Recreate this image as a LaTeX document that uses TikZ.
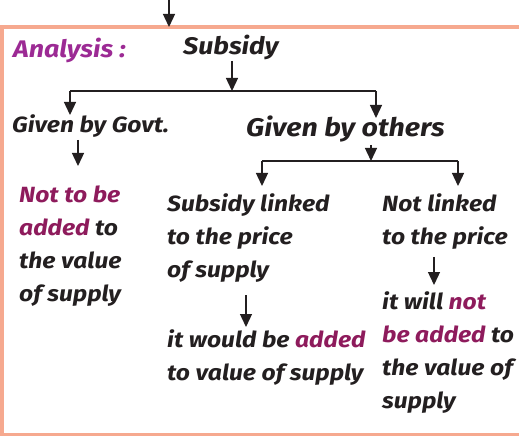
\documentclass[tikz,border=0pt]{standalone}
\usepackage{fontspec}
\setmainfont{Fira Sans}[FakeStretch=1.12]
\usetikzlibrary{arrows.meta}
\definecolor{boxc}{HTML}{F6A98F}
\definecolor{ana}{HTML}{9C2A94}
\definecolor{mag}{HTML}{8E1B5C}
\definecolor{ink}{HTML}{231F20}
\begin{document}
\begin{tikzpicture}[x=1pt,y=-1pt,
  arr/.style={draw=ink,line width=1.3pt,-{Triangle[length=13pt,width=12pt]}},
  lin/.style={draw=ink,line width=1.1pt},
  txt/.style={inner sep=0pt,text=ink,font=\bfseries\itshape\fontsize{22}{33}\selectfont,align=left},
  big/.style={inner sep=0pt,text=ink,font=\bfseries\itshape\fontsize{24}{30}\selectfont}]
\useasboundingbox (0,0) rectangle (519,438);
\draw[boxc,line width=3.5pt] (519,27) -- (2,27) -- (2,434.5) -- (519,434.5);
% top entry
\coordinate (topin) at (169,0);
\coordinate (topend) at (169,27);
\draw[arr] (topin) -- (topend);
% texts
\node[inner sep=0pt,anchor=base west,text=ana,font=\bfseries\itshape\fontsize{24}{26}\selectfont] (ana) at (13,58) {Analysis :};
\node[big,anchor=base west] (subsidy) at (183,55) {Subsidy};
\node[txt,anchor=base west,font=\bfseries\itshape\fontsize{22}{26}\selectfont] (govt) at (12,133) {Given by Govt.};
\node[big,anchor=base west,font=\bfseries\itshape\fontsize{25.5}{30}\selectfont] (others) at (246,137) {Given by others};
\node[txt,anchor=north west] (notadd) at (19,186) {\textcolor{mag}{Not to be}\\ \textcolor{mag}{added} to\\ the value\\ of supply};
\node[txt,anchor=north west] (linked) at (167,193) {Subsidy linked\\ to the price\\ of supply};
\node[txt,anchor=north west] (would) at (167,329) {it would be \textcolor{mag}{added}\\ to value of supply};
\node[txt,anchor=north west] (nlinked) at (382,193) {Not linked\\ to the price};
\node[txt,anchor=north west] (will) at (382,291) {it will \textcolor{mag}{not}\\ \textcolor{mag}{be added} to\\ the value of\\ supply};
% first split
\coordinate (s1) at (232,91);
\coordinate (s1l) at (70,91);
\coordinate (s1r) at (376,91);
\draw[arr] (232,61) -- (s1);
\draw[lin] (s1l) -- (s1r);
\draw[arr] (s1l) -- (70,115);
\draw[arr] (s1r) -- (376,118);
% govt arrow
\coordinate (g1) at (78,140);
\coordinate (g2) at (78,166);
\draw[arr] (g1) -- (g2);
% second split
\coordinate (s2) at (371,161);
\coordinate (s2l) at (262,161);
\coordinate (s2r) at (458,161);
\draw[arr] (371,145) -- (s2);
\draw[lin] (s2l) -- (s2r);
\draw[arr] (s2l) -- (262,186);
\draw[arr] (s2r) -- (458,186);
% lower arrows
\draw[arr] (246,295) -- (246,327);
\draw[arr] (434,257) -- (434,285);
\end{tikzpicture}
\end{document}
